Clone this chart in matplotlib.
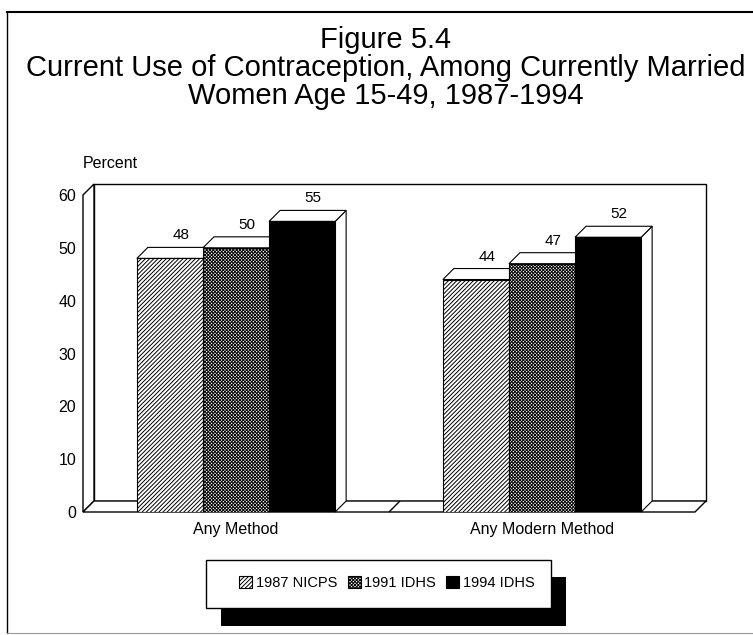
import matplotlib
matplotlib.use('Agg')
import matplotlib.pyplot as plt
import numpy as np
from matplotlib.patches import Polygon, Rectangle
from matplotlib.transforms import IdentityTransform
from matplotlib.lines import Line2D

# ---------------- data ----------------
categories = ['Any Method', 'Any Modern Method']
series_names = ['1987 NICPS', '1991 IDHS', '1994 IDHS']
v1987 = [48, 44]
v1991 = [50, 47]
v1994 = [55, 52]
yticks = [0, 10, 20, 30, 40, 50, 60]
title_lines = ['Figure 5.4',
               'Current Use of Contraception, Among Currently Married',
               'Women Age 15-49, 1987-1994']
ylabel_text = 'Percent'

# ---------------- style ----------------
W, H, DPI = 753, 635, 100
plt.rcParams['font.family'] = ['Liberation Sans', 'DejaVu Sans']
plt.rcParams['hatch.linewidth'] = 0.7
plt.rcParams['hatch.color'] = 'black'

fig = plt.figure(figsize=(W / DPI, H / DPI), dpi=DPI)
fig.patch.set_facecolor('white')


def fx(px):
    return px / W


def fy(py):
    return 1 - py / H


ax = fig.add_axes([fx(83), fy(512), (695 - 83) / W, (512 - 195) / H])
ax.patch.set_visible(False)
for s in ax.spines.values():
    s.set_visible(False)

x = np.arange(len(categories))
ax.set_xlim(-0.5, len(categories) - 0.5)
ax.set_ylim(0, 60)

DX, DY = 11, 11  # 3-D depth in pixels


def poly3d(pts, closed=True, **kw):
    xy = np.array([[p[0], p[1]] for p in pts], float)
    d = np.array([p[2] for p in pts], float)
    dxy = ax.transData.transform(xy) + d[:, None] * np.array([DX, DY])
    p = Polygon(dxy, closed=closed, transform=IdentityTransform(),
                clip_on=False, **kw)
    ax.add_artist(p)
    return p


x0, x1 = ax.get_xlim()
y0, y1 = ax.get_ylim()
# back wall, left wall, floor
poly3d([(x0, y0, 1), (x1, y0, 1), (x1, y1, 1), (x0, y1, 1)],
       fc='white', ec='black', lw=1.0, zorder=1)
poly3d([(x0, y0, 0), (x0, y1, 0), (x0, y1, 1), (x0, y0, 1)],
       fc='white', ec='black', lw=1.0, zorder=1.2)
poly3d([(x0, y0, 0), (x1, y0, 0), (x1, y0, 1), (x0, y0, 1)],
       fc='white', ec='black', lw=1.0, zorder=1.4)
for b in (x[:-1] + 0.5):
    poly3d([(b, y0, 0), (b, y0, 1)], closed=False, fill=False,
           ec='black', lw=1.0, zorder=1.5)

bw = 0.216
offsets = [-bw, 0, bw]
hatches = ['////////', 'xxxxxxxxxx', None]
faces = ['white', 'white', 'black']
values = [v1987, v1991, v1994]

for i, (vals, off) in enumerate(zip(values, offsets)):
    xs = x + off
    ax.bar(xs, vals, bw, color=faces[i], edgecolor='black', hatch=hatches[i],
           linewidth=0.8, zorder=3 + 2 * i, label=series_names[i])
    for xc, v in zip(xs, vals):
        l, r = xc - bw / 2, xc + bw / 2
        poly3d([(r, 0, 0), (r, v, 0), (r, v, 1), (r, 0, 1)],
               fc='white', ec='black', lw=0.8, zorder=2 + 2 * i)
        poly3d([(l, v, 0), (r, v, 0), (r, v, 1), (l, v, 1)],
               fc='white', ec='black', lw=0.8, zorder=2 + 2 * i)
        ax.annotate(f'{v}', (xc, v), xytext=(DX * 0.72, 23 * 0.72),
                    textcoords='offset points', ha='center', va='center',
                    fontsize=11, zorder=10)

ax.set_xlim(x0, x1)
ax.set_ylim(y0, y1)
ax.set_yticks(yticks)
ax.set_xticks(x, categories)
ax.tick_params(axis='y', length=0, pad=5, labelsize=11.5)
ax.tick_params(axis='x', length=0, pad=7, labelsize=11.5)

fig.text(fx(83), fy(163), ylabel_text, ha='left', va='center', fontsize=11.5)

for t, yy in zip(title_lines, (40, 68, 96)):
    fig.text(fx(386), fy(yy), t, ha='center', va='center', fontsize=21)

# outer frame
fig.add_artist(Line2D([fx(7), fx(753)], [fy(12), fy(12)], color='black',
                      lw=1.5, transform=fig.transFigure))
fig.add_artist(Line2D([fx(7), fx(7)], [fy(12), fy(633)], color='black',
                      lw=1.0, transform=fig.transFigure))
fig.add_artist(Line2D([fx(7), fx(753)], [fy(633), fy(633)], color='#999999',
                      lw=0.8, transform=fig.transFigure))

# legend with drop shadow
handles, labels = ax.get_legend_handles_labels()
fig.add_artist(Rectangle((fx(221), fy(626)), (566 - 221) / W, (626 - 577) / H,
                         transform=fig.transFigure, fc='black', ec='none',
                         zorder=4))
fig.add_artist(Rectangle((fx(206), fy(608)), (551 - 206) / W, (608 - 560) / H,
                         transform=fig.transFigure, fc='white', ec='black',
                         lw=1.0, zorder=5))
leg = fig.legend(handles, labels, loc='center',
                 bbox_to_anchor=(fx(387), fy(583)), ncol=3, frameon=False,
                 fontsize=10.5, handlelength=0.9, handleheight=0.9,
                 handletextpad=0.25, columnspacing=0.7)
leg.set_zorder(6)

fig.savefig('out.png', dpi=DPI, facecolor='white')
